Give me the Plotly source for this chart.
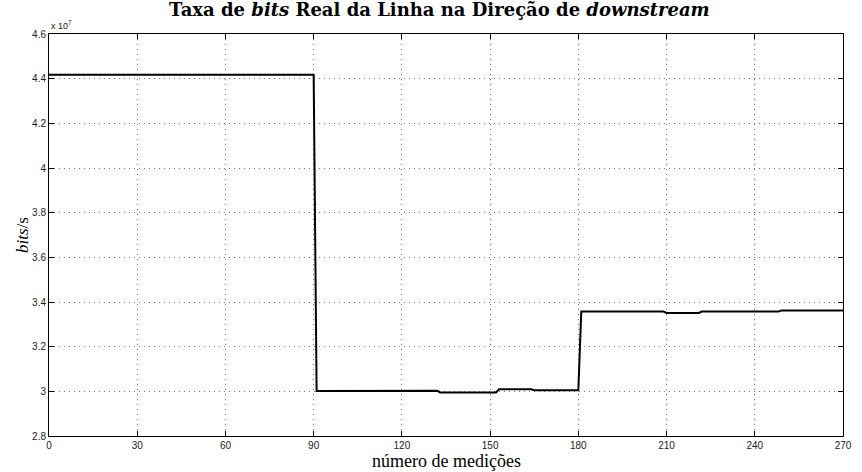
import plotly.graph_objects as go

# Measurement index and line bit rate (bits/s) at each breakpoint of the trace
medicoes = [0, 90, 91, 103, 104, 132, 133, 152, 153, 164, 165, 180, 181,
            209, 210, 221, 222, 248, 249, 270]
taxa_bits = [4.418e7, 4.418e7, 3.002e7, 3.002e7, 3.003e7, 3.003e7, 2.995e7,
             2.995e7, 3.009e7, 3.009e7, 3.005e7, 3.005e7, 3.357e7,
             3.357e7, 3.351e7, 3.351e7, 3.357e7, 3.357e7, 3.362e7, 3.362e7]

x_ticks = [0, 30, 60, 90, 120, 150, 180, 210, 240, 270]
y_ticks = [2.8e7, 3.0e7, 3.2e7, 3.4e7, 3.6e7, 3.8e7, 4.0e7, 4.2e7, 4.4e7, 4.6e7]
y_tick_labels = ["2.8", "3", "3.2", "3.4", "3.6", "3.8", "4", "4.2", "4.4", "4.6"]

fig = go.Figure()
fig.add_trace(go.Scatter(
    x=medicoes, y=taxa_bits, mode="lines",
    line=dict(color="black", width=2),
    showlegend=False, hoverinfo="x+y",
))

tick_font = dict(family="Liberation Sans, Arial, sans-serif", size=10, color="#222")
axis_common = dict(
    showline=True, linecolor="black", linewidth=1, mirror="ticks",
    ticks="inside", ticklen=5, tickcolor="black", tickwidth=1,
    showgrid=True, gridcolor="#777", griddash="1px,4px", gridwidth=1,
    zeroline=False, tickfont=tick_font,
)

fig.update_layout(
    width=862, height=472,
    margin=dict(l=49, r=10, t=34, b=36),
    paper_bgcolor="white", plot_bgcolor="white",
    xaxis=dict(range=[0, 270], tickvals=x_ticks, ticktext=[str(v) for v in x_ticks],
               **axis_common),
    yaxis=dict(range=[2.8e7, 4.6e7], tickvals=y_ticks, ticktext=y_tick_labels,
               **axis_common),
    annotations=[
        dict(text="<b>Taxa de <i>bits</i> Real da Linha na Direção de <i>downstream</i></b>",
             xref="paper", yref="paper", x=0.492, y=1, yshift=25,
             xanchor="center", yanchor="middle", showarrow=False,
             font=dict(family="DejaVu Serif, serif", size=18, color="black")),
        dict(text="número de medições",
             xref="paper", yref="paper", x=0.5, y=0, yshift=-25,
             xanchor="center", yanchor="middle", showarrow=False,
             font=dict(family="Liberation Serif, serif", size=18, color="black")),
        dict(text="<i>bits</i>/s", textangle=-90,
             xref="paper", yref="paper", x=0, xshift=-27, y=0.5,
             xanchor="center", yanchor="middle", showarrow=False,
             font=dict(family="Liberation Serif, serif", size=17, color="black")),
        dict(text="x 10<sup>7</sup>",
             xref="paper", yref="paper", x=0, y=1, yshift=1,
             xanchor="left", yanchor="bottom", showarrow=False,
             font=dict(family="Liberation Sans, Arial, sans-serif", size=9, color="#222")),
    ],
)

fig.write_html("out.html")
